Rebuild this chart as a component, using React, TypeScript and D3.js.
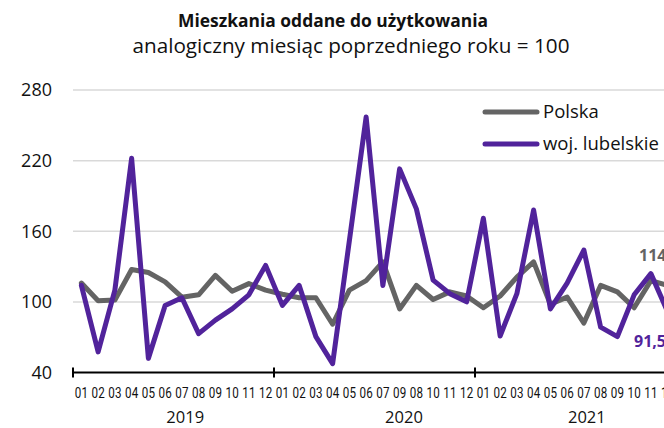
import React from "react";
import * as d3 from "d3";

const years = ["2019", "2020", "2021"];
const monthLabels = [
  "01","02","03","04","05","06","07","08","09","10","11","12",
  "01","02","03","04","05","06","07","09","08","10","11","12",
  "01","02","03","04","05","06","07","08","09","10","11","12",
];
const polska = [
  116, 101, 101.5, 127.5, 125, 117, 104, 106, 122.5, 109, 115.5, 110,
  106.5, 103.5, 103.5, 81, 110, 118, 134, 94, 114, 102, 108.5, 105,
  95, 105, 121, 134, 98, 104, 82, 114, 108.5, 95, 118, 114,
];
const lubelskie = [
  114, 57.5, 110, 222, 52, 97, 103.5, 73, 84.5, 94, 106, 131,
  97, 114, 70.5, 47.5, 152, 257, 114, 213, 179, 118.5, 107, 100,
  171, 71, 107, 178, 94, 116, 144, 78.5, 70.5, 106, 124, 91.5,
];
const yTicks = [40, 100, 160, 220, 280];
const seriesNames = ["Polska", "woj. lubelskie"];
const endLabels = ["114", "91,5"];
// year label position expressed as month offsets along the axis
const yearLabelAt = [6.2, 19.26, 30.18];

const W = 664;
const H = 428;
const GREY = "#646464";
const PURPLE = "#51239b";
const FONT = "'Open Sans', 'Noto Sans', sans-serif";

export default function App() {
  const idx = d3.range(monthLabels.length);
  const x = d3.scaleBand<number>().domain(idx).range([73, 73 + 16.75 * 36]).padding(0);
  const bw = x.bandwidth();
  const cx = (i: number) => (x(i) as number) + bw / 2;
  const y = d3.scaleLinear().domain([40, 280]).range([372.5, 90]);
  const line = d3
    .line<number>()
    .x((_, i) => cx(i))
    .y((d) => y(d));
  const axisY = y(40);
  const yearTicks = [0, 12, 24, 36].map((k) => 73 + bw * k);

  return (
    <div style={{ position: "fixed", left: 0, top: 0 }}>
      <svg width={W} height={H} style={{ display: "block", background: "#fff" }} fontFamily={FONT}>
        <text x={333} y={27} textAnchor="middle" fontSize={18.5} fontWeight={700} fill="#111"
          textLength={310} lengthAdjust="spacingAndGlyphs">
          Mieszkania oddane do użytkowania
        </text>
        <text x={351} y={53} textAnchor="middle" fontSize={20} fill="#111"
          textLength={437} lengthAdjust="spacingAndGlyphs">
          analogiczny miesiąc poprzedniego roku = 100
        </text>

        {yTicks.map((t) => (
          <g key={t}>
            {t !== 40 && (
              <line x1={73} x2={680} y1={y(t)} y2={y(t)} stroke="#d9d9d9" strokeWidth={1.5} />
            )}
            <text x={52} y={y(t)} dy="0.35em" textAnchor="end" fontSize={18} fill="#111">
              {t}
            </text>
          </g>
        ))}

        <path d={line(polska) || ""} fill="none" stroke={GREY} strokeWidth={5} strokeLinejoin="round" strokeLinecap="round" />
        <path d={line(lubelskie) || ""} fill="none" stroke={PURPLE} strokeWidth={5} strokeLinejoin="round" strokeLinecap="round" />

        <line x1={73} x2={690} y1={axisY} y2={axisY} stroke="#000" strokeWidth={2} />
        {yearTicks.map((t, i) => (
          <line key={i} x1={t} x2={t} y1={axisY - 5} y2={axisY + 5} stroke="#000" strokeWidth={2} />
        ))}

        {monthLabels.map((m, i) => (
          <text
            key={i}
            transform={`translate(${cx(i)},398) scale(0.8,1)`}
            textAnchor="middle"
            fontSize={14.5}
            fill="#111"
            fontFamily="Roboto, sans-serif"
          >
            {m}
          </text>
        ))}
        {years.map((yr, i) => (
          <text key={yr} x={cx(0) + bw * yearLabelAt[i]} y={423} textAnchor="middle" fontSize={16.5} fill="#111">
            {yr}
          </text>
        ))}

        {seriesNames.map((n, i) => (
          <g key={n}>
            <line x1={485} x2={537} y1={112 + i * 32} y2={112 + i * 32} stroke={i === 0 ? GREY : PURPLE} strokeWidth={5} strokeLinecap="round" />
            <text x={543} y={112 + i * 32} dy="0.35em" fontSize={18.5} fill="#111">
              {n}
            </text>
          </g>
        ))}

        <text x={639} y={261} fontSize={16} fontWeight={700} fill={GREY}>
          {endLabels[0]}
        </text>
        <text x={634} y={347} fontSize={16} fontWeight={700} fill={PURPLE}>
          {endLabels[1]}
        </text>
      </svg>
    </div>
  );
}
